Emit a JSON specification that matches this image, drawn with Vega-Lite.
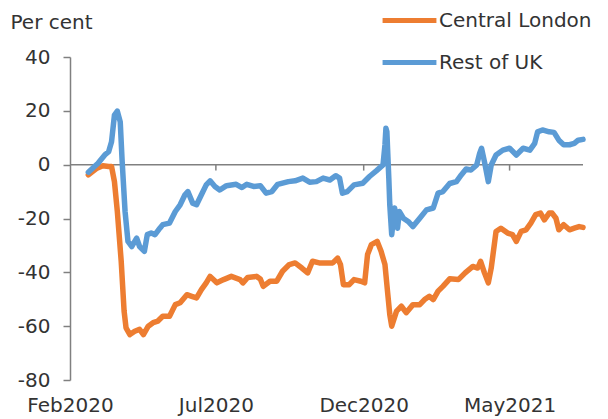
{
  "$schema": "https://vega.github.io/schema/vega-lite/v6.json",
  "width": 513,
  "height": 323,
  "autosize": {"type": "none"},
  "padding": {"left": 70, "top": 57, "right": 25, "bottom": 39},
  "config": {"view": {"stroke": null}, "font": "DejaVu Sans"},
  "datasets": {
    "ticks": [{"d": "2020-07-01"}, {"d": "2020-12-01"}, {"d": "2021-05-01"}],
    "series": [
      {"d":"2020-02-20","s":"Central London","v":-3.8},
      {"d":"2020-02-29","s":"Central London","v":-1.3},
      {"d":"2020-03-06","s":"Central London","v":-0.4},
      {"d":"2020-03-12","s":"Central London","v":-0.7},
      {"d":"2020-03-15","s":"Central London","v":-0.7},
      {"d":"2020-03-18","s":"Central London","v":-6.3},
      {"d":"2020-03-21","s":"Central London","v":-17.4},
      {"d":"2020-03-25","s":"Central London","v":-35.9},
      {"d":"2020-03-28","s":"Central London","v":-54.4},
      {"d":"2020-03-30","s":"Central London","v":-60.6},
      {"d":"2020-04-03","s":"Central London","v":-63.1},
      {"d":"2020-04-08","s":"Central London","v":-61.9},
      {"d":"2020-04-13","s":"Central London","v":-61.2},
      {"d":"2020-04-17","s":"Central London","v":-63.1},
      {"d":"2020-04-22","s":"Central London","v":-60},
      {"d":"2020-04-27","s":"Central London","v":-58.7},
      {"d":"2020-05-02","s":"Central London","v":-58.1},
      {"d":"2020-05-07","s":"Central London","v":-56.3},
      {"d":"2020-05-14","s":"Central London","v":-56.3},
      {"d":"2020-05-20","s":"Central London","v":-52},
      {"d":"2020-05-25","s":"Central London","v":-51.3},
      {"d":"2020-06-01","s":"Central London","v":-48.3},
      {"d":"2020-06-06","s":"Central London","v":-48.9},
      {"d":"2020-06-11","s":"Central London","v":-49.5},
      {"d":"2020-06-16","s":"Central London","v":-46.4},
      {"d":"2020-06-21","s":"Central London","v":-43.9},
      {"d":"2020-06-25","s":"Central London","v":-41.5},
      {"d":"2020-07-02","s":"Central London","v":-43.9},
      {"d":"2020-07-09","s":"Central London","v":-42.7},
      {"d":"2020-07-17","s":"Central London","v":-41.5},
      {"d":"2020-07-26","s":"Central London","v":-42.7},
      {"d":"2020-07-29","s":"Central London","v":-43.9},
      {"d":"2020-08-03","s":"Central London","v":-41.9},
      {"d":"2020-08-12","s":"Central London","v":-41.5},
      {"d":"2020-08-16","s":"Central London","v":-42.5},
      {"d":"2020-08-19","s":"Central London","v":-45.2},
      {"d":"2020-08-26","s":"Central London","v":-43.3},
      {"d":"2020-09-02","s":"Central London","v":-43.3},
      {"d":"2020-09-08","s":"Central London","v":-39.6},
      {"d":"2020-09-15","s":"Central London","v":-37.1},
      {"d":"2020-09-21","s":"Central London","v":-36.5},
      {"d":"2020-09-28","s":"Central London","v":-38.4},
      {"d":"2020-10-04","s":"Central London","v":-40.2},
      {"d":"2020-10-09","s":"Central London","v":-35.9},
      {"d":"2020-10-16","s":"Central London","v":-36.5},
      {"d":"2020-10-23","s":"Central London","v":-36.5},
      {"d":"2020-10-30","s":"Central London","v":-36.5},
      {"d":"2020-11-04","s":"Central London","v":-34.7},
      {"d":"2020-11-07","s":"Central London","v":-37.1},
      {"d":"2020-11-10","s":"Central London","v":-44.6},
      {"d":"2020-11-16","s":"Central London","v":-44.6},
      {"d":"2020-11-21","s":"Central London","v":-42.7},
      {"d":"2020-11-28","s":"Central London","v":-43.3},
      {"d":"2020-12-02","s":"Central London","v":-43.9},
      {"d":"2020-12-05","s":"Central London","v":-33.4},
      {"d":"2020-12-09","s":"Central London","v":-29.7},
      {"d":"2020-12-15","s":"Central London","v":-28.5},
      {"d":"2020-12-19","s":"Central London","v":-32.2},
      {"d":"2020-12-23","s":"Central London","v":-37.1},
      {"d":"2020-12-26","s":"Central London","v":-48.3},
      {"d":"2020-12-28","s":"Central London","v":-55.7},
      {"d":"2020-12-30","s":"Central London","v":-60},
      {"d":"2021-01-04","s":"Central London","v":-54.4},
      {"d":"2021-01-09","s":"Central London","v":-52.6},
      {"d":"2021-01-14","s":"Central London","v":-55},
      {"d":"2021-01-21","s":"Central London","v":-52},
      {"d":"2021-01-28","s":"Central London","v":-52},
      {"d":"2021-02-02","s":"Central London","v":-50.1},
      {"d":"2021-02-07","s":"Central London","v":-48.9},
      {"d":"2021-02-11","s":"Central London","v":-50.1},
      {"d":"2021-02-16","s":"Central London","v":-47},
      {"d":"2021-02-21","s":"Central London","v":-45.2},
      {"d":"2021-02-28","s":"Central London","v":-42.4},
      {"d":"2021-03-09","s":"Central London","v":-42.7},
      {"d":"2021-03-16","s":"Central London","v":-40.2},
      {"d":"2021-03-24","s":"Central London","v":-37.8},
      {"d":"2021-03-29","s":"Central London","v":-38.4},
      {"d":"2021-04-01","s":"Central London","v":-35.9},
      {"d":"2021-04-05","s":"Central London","v":-40.2},
      {"d":"2021-04-09","s":"Central London","v":-43.9},
      {"d":"2021-04-12","s":"Central London","v":-38.4},
      {"d":"2021-04-17","s":"Central London","v":-24.8},
      {"d":"2021-04-22","s":"Central London","v":-23.6},
      {"d":"2021-04-29","s":"Central London","v":-25.4},
      {"d":"2021-05-04","s":"Central London","v":-26},
      {"d":"2021-05-08","s":"Central London","v":-28.5},
      {"d":"2021-05-13","s":"Central London","v":-24.8},
      {"d":"2021-05-18","s":"Central London","v":-24.2},
      {"d":"2021-05-23","s":"Central London","v":-21.7},
      {"d":"2021-05-28","s":"Central London","v":-18.6},
      {"d":"2021-06-02","s":"Central London","v":-18},
      {"d":"2021-06-06","s":"Central London","v":-20.5},
      {"d":"2021-06-11","s":"Central London","v":-18},
      {"d":"2021-06-14","s":"Central London","v":-18},
      {"d":"2021-06-18","s":"Central London","v":-19.9},
      {"d":"2021-06-21","s":"Central London","v":-24.2},
      {"d":"2021-06-26","s":"Central London","v":-22.3},
      {"d":"2021-07-02","s":"Central London","v":-24.2},
      {"d":"2021-07-07","s":"Central London","v":-23.6},
      {"d":"2021-07-12","s":"Central London","v":-23},
      {"d":"2021-07-16","s":"Central London","v":-23.3},
      {"d":"2020-02-20","s":"Rest of UK","v":-2.8},
      {"d":"2020-03-01","s":"Rest of UK","v":0.5},
      {"d":"2020-03-08","s":"Rest of UK","v":3.6},
      {"d":"2020-03-12","s":"Rest of UK","v":4.8},
      {"d":"2020-03-15","s":"Rest of UK","v":8.5},
      {"d":"2020-03-18","s":"Rest of UK","v":18.4},
      {"d":"2020-03-21","s":"Rest of UK","v":19.9},
      {"d":"2020-03-24","s":"Rest of UK","v":15.9},
      {"d":"2020-03-26","s":"Rest of UK","v":1.1},
      {"d":"2020-03-29","s":"Rest of UK","v":-17.4},
      {"d":"2020-04-01","s":"Rest of UK","v":-28.5},
      {"d":"2020-04-05","s":"Rest of UK","v":-30.4},
      {"d":"2020-04-10","s":"Rest of UK","v":-27.3},
      {"d":"2020-04-13","s":"Rest of UK","v":-30.4},
      {"d":"2020-04-18","s":"Rest of UK","v":-32.2},
      {"d":"2020-04-21","s":"Rest of UK","v":-26},
      {"d":"2020-04-25","s":"Rest of UK","v":-25.4},
      {"d":"2020-04-29","s":"Rest of UK","v":-26},
      {"d":"2020-05-04","s":"Rest of UK","v":-23.6},
      {"d":"2020-05-07","s":"Rest of UK","v":-22.3},
      {"d":"2020-05-14","s":"Rest of UK","v":-21.7},
      {"d":"2020-05-20","s":"Rest of UK","v":-17.4},
      {"d":"2020-05-25","s":"Rest of UK","v":-14.9},
      {"d":"2020-05-30","s":"Rest of UK","v":-11.2},
      {"d":"2020-06-02","s":"Rest of UK","v":-10},
      {"d":"2020-06-07","s":"Rest of UK","v":-14.3},
      {"d":"2020-06-11","s":"Rest of UK","v":-14.9},
      {"d":"2020-06-16","s":"Rest of UK","v":-11.2},
      {"d":"2020-06-21","s":"Rest of UK","v":-7.5},
      {"d":"2020-06-25","s":"Rest of UK","v":-6},
      {"d":"2020-06-30","s":"Rest of UK","v":-8.1},
      {"d":"2020-07-05","s":"Rest of UK","v":-9.4},
      {"d":"2020-07-12","s":"Rest of UK","v":-7.8},
      {"d":"2020-07-22","s":"Rest of UK","v":-7.3},
      {"d":"2020-07-28","s":"Rest of UK","v":-8.5},
      {"d":"2020-08-02","s":"Rest of UK","v":-7.3},
      {"d":"2020-08-09","s":"Rest of UK","v":-8.1},
      {"d":"2020-08-16","s":"Rest of UK","v":-7.8},
      {"d":"2020-08-22","s":"Rest of UK","v":-10.6},
      {"d":"2020-08-28","s":"Rest of UK","v":-10},
      {"d":"2020-09-03","s":"Rest of UK","v":-7.3},
      {"d":"2020-09-14","s":"Rest of UK","v":-6.3},
      {"d":"2020-09-21","s":"Rest of UK","v":-6},
      {"d":"2020-09-29","s":"Rest of UK","v":-5},
      {"d":"2020-10-06","s":"Rest of UK","v":-6.5},
      {"d":"2020-10-13","s":"Rest of UK","v":-6.3},
      {"d":"2020-10-20","s":"Rest of UK","v":-5},
      {"d":"2020-10-27","s":"Rest of UK","v":-5.7},
      {"d":"2020-11-02","s":"Rest of UK","v":-4.1},
      {"d":"2020-11-06","s":"Rest of UK","v":-5},
      {"d":"2020-11-09","s":"Rest of UK","v":-10.6},
      {"d":"2020-11-14","s":"Rest of UK","v":-10},
      {"d":"2020-11-21","s":"Rest of UK","v":-7.5},
      {"d":"2020-11-30","s":"Rest of UK","v":-6.9},
      {"d":"2020-12-07","s":"Rest of UK","v":-4.4},
      {"d":"2020-12-14","s":"Rest of UK","v":-2.3},
      {"d":"2020-12-21","s":"Rest of UK","v":-0.1},
      {"d":"2020-12-23","s":"Rest of UK","v":7.3},
      {"d":"2020-12-24","s":"Rest of UK","v":13.5},
      {"d":"2020-12-25","s":"Rest of UK","v":12.2},
      {"d":"2020-12-27","s":"Rest of UK","v":-5},
      {"d":"2020-12-28","s":"Rest of UK","v":-14.9},
      {"d":"2020-12-30","s":"Rest of UK","v":-26},
      {"d":"2021-01-02","s":"Rest of UK","v":-16.1},
      {"d":"2021-01-05","s":"Rest of UK","v":-23.6},
      {"d":"2021-01-07","s":"Rest of UK","v":-17.4},
      {"d":"2021-01-11","s":"Rest of UK","v":-19.9},
      {"d":"2021-01-16","s":"Rest of UK","v":-21.1},
      {"d":"2021-01-21","s":"Rest of UK","v":-23},
      {"d":"2021-01-28","s":"Rest of UK","v":-19.9},
      {"d":"2021-02-04","s":"Rest of UK","v":-16.8},
      {"d":"2021-02-11","s":"Rest of UK","v":-16.1},
      {"d":"2021-02-16","s":"Rest of UK","v":-10.6},
      {"d":"2021-02-21","s":"Rest of UK","v":-10},
      {"d":"2021-02-28","s":"Rest of UK","v":-7},
      {"d":"2021-03-07","s":"Rest of UK","v":-6.3},
      {"d":"2021-03-12","s":"Rest of UK","v":-3.8},
      {"d":"2021-03-17","s":"Rest of UK","v":-1.6},
      {"d":"2021-03-22","s":"Rest of UK","v":-2},
      {"d":"2021-03-28","s":"Rest of UK","v":-0.1},
      {"d":"2021-03-31","s":"Rest of UK","v":4.2},
      {"d":"2021-04-02","s":"Rest of UK","v":6.1},
      {"d":"2021-04-05","s":"Rest of UK","v":1.1},
      {"d":"2021-04-09","s":"Rest of UK","v":-6.3},
      {"d":"2021-04-12","s":"Rest of UK","v":-0.1},
      {"d":"2021-04-17","s":"Rest of UK","v":3.6},
      {"d":"2021-04-24","s":"Rest of UK","v":5.4},
      {"d":"2021-05-01","s":"Rest of UK","v":6.1},
      {"d":"2021-05-08","s":"Rest of UK","v":3.6},
      {"d":"2021-05-15","s":"Rest of UK","v":6.1},
      {"d":"2021-05-22","s":"Rest of UK","v":5.4},
      {"d":"2021-05-27","s":"Rest of UK","v":7.9},
      {"d":"2021-05-30","s":"Rest of UK","v":12.2},
      {"d":"2021-06-04","s":"Rest of UK","v":12.9},
      {"d":"2021-06-11","s":"Rest of UK","v":12.2},
      {"d":"2021-06-16","s":"Rest of UK","v":12},
      {"d":"2021-06-21","s":"Rest of UK","v":9.1},
      {"d":"2021-06-26","s":"Rest of UK","v":7.4},
      {"d":"2021-07-02","s":"Rest of UK","v":7.4},
      {"d":"2021-07-07","s":"Rest of UK","v":7.9},
      {"d":"2021-07-11","s":"Rest of UK","v":9.1},
      {"d":"2021-07-16","s":"Rest of UK","v":9.4}
    ]
  },
  "layer": [
    {
      "data": {"values": [{"z": 0}]},
      "mark": {"type": "rule", "color": "#808080", "strokeWidth": 1.5},
      "encoding": {"y": {"field": "z", "type": "quantitative", "scale": {"domain": [-80, 40]}}}
    },
    {
      "data": {"name": "ticks"},
      "mark": {"type": "rule", "color": "#808080", "strokeWidth": 1.5},
      "encoding": {
        "x": {"field": "d", "type": "temporal"},
        "y": {"datum": 0},
        "y2": {"datum": -2.2}
      }
    },
    {
      "data": {"name": "series"},
      "mark": {"type": "line", "strokeWidth": 5.5, "strokeCap": "round", "strokeJoin": "round"},
      "encoding": {
        "x": {
          "field": "d", "type": "temporal",
          "scale": {"type": "utc", "domain": [{"year": 2020, "month": 2, "date": 1, "utc": true}, {"year": 2021, "month": 7, "date": 16, "utc": true}]},
          "axis": {
            "title": null, "grid": false, "domain": false, "ticks": false, "tickSize": 0,
            "values": [{"year": 2020, "month": 2, "date": 1, "utc": true}, {"year": 2020, "month": 7, "date": 1, "utc": true}, {"year": 2020, "month": 12, "date": 1, "utc": true}, {"year": 2021, "month": 5, "date": 1, "utc": true}],
            "labelExpr": "utcFormat(datum.value, '%b%Y')",
            "labelFontSize": 20, "labelColor": "#333333", "labelPadding": 15, "labelFlush": false, "labelOverlap": false
          }
        },
        "y": {
          "field": "v", "type": "quantitative",
          "scale": {"domain": [-80, 40], "nice": false},
          "axis": {
            "title": "Per cent", "titleAngle": 0, "titleAlign": "left", "titleBaseline": "middle",
            "titleX": -60, "titleY": -35, "titleFontSize": 20, "titleFontWeight": "normal", "titleColor": "#333333",
            "values": [-80, -60, -40, -20, 0, 20, 40],
            "labelExpr": "(datum.value < 0 ? '-' : '') + abs(datum.value)",
            "grid": false, "domainColor": "#808080", "domainWidth": 1.5, "tickColor": "#808080", "tickWidth": 1.5, "tickSize": 7,
            "labelFontSize": 20, "labelColor": "#333333", "labelPadding": 13
          }
        },
        "color": {
          "field": "s", "type": "nominal",
          "scale": {"domain": ["Central London", "Rest of UK"], "range": ["#ED7D31", "#5B9BD5"]},
          "legend": {
            "title": null, "orient": "none", "legendX": 310, "legendY": -66,
            "symbolType": "stroke", "symbolSize": 2900, "symbolStrokeWidth": 5,
            "labelFontSize": 20, "labelColor": "#333333", "labelOffset": 0, "rowPadding": 2
          }
        }
      }
    }
  ]
}
